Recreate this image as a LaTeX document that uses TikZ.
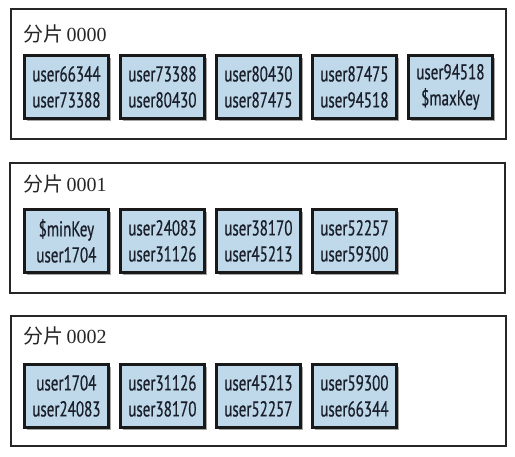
\documentclass[tikz,border=0pt]{standalone}
\usepackage{fontspec}
\setmainfont{Liberation Serif}
\newfontfamily\keyfont[FakeStretch=0.7,FakeBold=0.6]{PT Sans}
\newfontfamily\cjkfont{Noto Sans CJK SC}
\usetikzlibrary{shadows,positioning}
\definecolor{keyfill}{HTML}{BFD8EA}
\definecolor{keytext}{HTML}{1A1F2A}
\tikzset{
  shardbox/.style={draw=black!85, line width=1.6pt, fill=white, minimum width=495pt, minimum height=130pt, anchor=north west, inner sep=0pt},
  chunkbox/.style={draw=black!90, line width=2.8pt, fill=keyfill, minimum width=84pt, minimum height=63pt, anchor=north west, inner sep=0pt,
    align=center, font=\keyfont\fontsize{21.5pt}{26pt}\selectfont, text=keytext,
    drop shadow={shadow xshift=2.5pt, shadow yshift=-3pt, opacity=0.35, fill=black}},
  shardlabel/.style={anchor=west, inner sep=0pt, font=\fontsize{20pt}{22pt}\selectfont, text=black!85}
}
\begin{document}
\begin{tikzpicture}[x=1pt,y=-1pt]
\useasboundingbox (0,0) rectangle (515,457);
% shard 0000
\node[shardbox] (s0) at (10,8) {};
\node[shardlabel] (l0) at (23,34) {{\cjkfont 分片}\,0000};
\node[chunkbox] (c00) at (23,54) {user66344\\user73388};
\node[chunkbox] (c01) at (119,54) {user73388\\user80430};
\node[chunkbox] (c02) at (215,54) {user80430\\user87475};
\node[chunkbox] (c03) at (311,54) {user87475\\user94518};
\node[chunkbox] (c04) at (407,54) {user94518\\\$maxKey};
% shard 0001
\node[shardbox] (s1) at (9,162) {};
\node[shardlabel] (l1) at (23,184) {{\cjkfont 分片}\,0001};
\node[chunkbox] (c10) at (23,208) {\$minKey\\user1704};
\node[chunkbox] (c11) at (119,208) {user24083\\user31126};
\node[chunkbox] (c12) at (215,208) {user38170\\user45213};
\node[chunkbox] (c13) at (311,208) {user52257\\user59300};
% shard 0002
\node[shardbox] (s2) at (10,315) {};
\node[shardlabel] (l2) at (23,336) {{\cjkfont 分片}\,0002};
\node[chunkbox] (c20) at (23,363) {user1704\\user24083};
\node[chunkbox] (c21) at (119,363) {user31126\\user38170};
\node[chunkbox] (c22) at (215,363) {user45213\\user52257};
\node[chunkbox] (c23) at (311,363) {user59300\\user66344};
\end{tikzpicture}
\end{document}
